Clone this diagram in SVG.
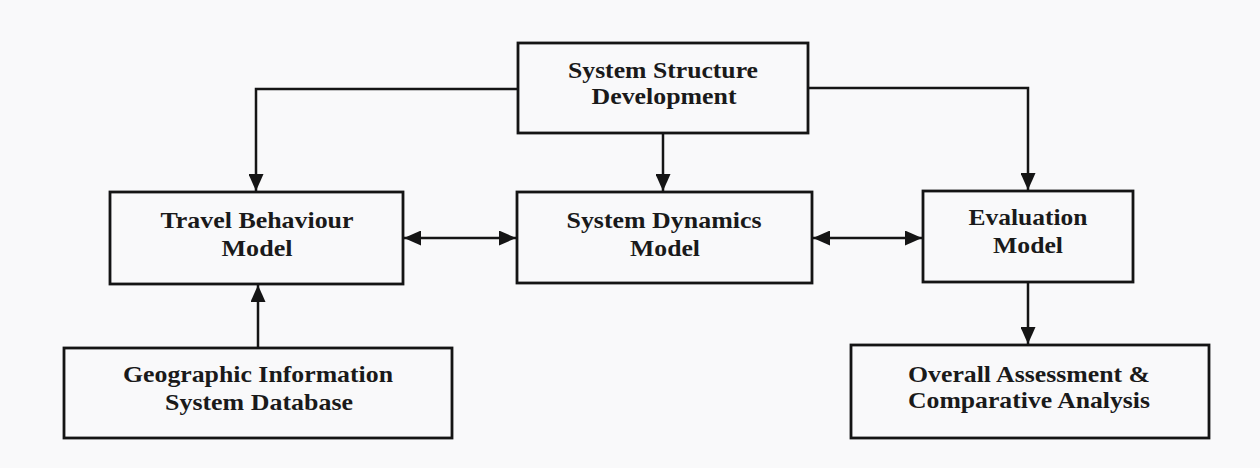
<svg xmlns="http://www.w3.org/2000/svg" width="1260" height="468" viewBox="0 0 1260 468">
  <defs>
    <marker id="arrow" viewBox="0 0 17 15" refX="17" refY="7.5" markerWidth="17" markerHeight="15" markerUnits="userSpaceOnUse" orient="auto-start-reverse">
      <path d="M0,0 L17,7.5 L0,15 Z" fill="#151515"/>
    </marker>
    <style>
      .box { fill: none; stroke: #141414; stroke-width: 2.8; }
      .label { font-family: "Liberation Serif", "Times New Roman", serif; font-weight: bold; font-size: 23px; fill: #1a1a1a; text-anchor: middle; }
      .link { fill: none; stroke: #151515; stroke-width: 2.5; }
    </style>
  </defs>

  <rect x="0" y="0" width="1260" height="468" fill="#f9f9fa"/>

  <g id="connectors">
    <path class="link" d="M518,89 H256 V191" marker-end="url(#arrow)"/>
    <path class="link" d="M808,88 H1028 V190" marker-end="url(#arrow)"/>
    <path class="link" d="M663,133 V191" marker-end="url(#arrow)"/>
    <path class="link" d="M404,238 H516" marker-start="url(#arrow)" marker-end="url(#arrow)"/>
    <path class="link" d="M813,238 H922" marker-start="url(#arrow)" marker-end="url(#arrow)"/>
    <path class="link" d="M258,348 V285" marker-end="url(#arrow)"/>
    <path class="link" d="M1028,283 V344" marker-end="url(#arrow)"/>
  </g>

  <g id="system-structure">
    <rect class="box" x="518" y="43" width="290" height="90"/>
    <text class="label" x="663" y="78" textLength="190" lengthAdjust="spacingAndGlyphs">System Structure</text>
    <text class="label" x="664" y="104" textLength="145" lengthAdjust="spacingAndGlyphs">Development</text>
  </g>

  <g id="travel-behaviour">
    <rect class="box" x="110" y="192" width="293" height="92"/>
    <text class="label" x="257" y="228" textLength="193" lengthAdjust="spacingAndGlyphs">Travel Behaviour</text>
    <text class="label" x="257" y="256" textLength="71" lengthAdjust="spacingAndGlyphs">Model</text>
  </g>

  <g id="system-dynamics">
    <rect class="box" x="517" y="192" width="295" height="91"/>
    <text class="label" x="664" y="228" textLength="195" lengthAdjust="spacingAndGlyphs">System Dynamics</text>
    <text class="label" x="665" y="256" textLength="70" lengthAdjust="spacingAndGlyphs">Model</text>
  </g>

  <g id="evaluation">
    <rect class="box" x="923" y="191" width="210" height="91"/>
    <text class="label" x="1028" y="225" textLength="119" lengthAdjust="spacingAndGlyphs">Evaluation</text>
    <text class="label" x="1028" y="253" textLength="70" lengthAdjust="spacingAndGlyphs">Model</text>
  </g>

  <g id="gis-database">
    <rect class="box" x="64" y="348" width="388" height="90"/>
    <text class="label" x="258" y="382" textLength="270" lengthAdjust="spacingAndGlyphs">Geographic Information</text>
    <text class="label" x="259" y="410" textLength="188" lengthAdjust="spacingAndGlyphs">System Database</text>
  </g>

  <g id="overall-assessment">
    <rect class="box" x="851" y="345" width="358" height="93"/>
    <text class="label" x="1029" y="382" textLength="242" lengthAdjust="spacingAndGlyphs">Overall Assessment &amp;</text>
    <text class="label" x="1029" y="408" textLength="242" lengthAdjust="spacingAndGlyphs">Comparative Analysis</text>
  </g>
</svg>
